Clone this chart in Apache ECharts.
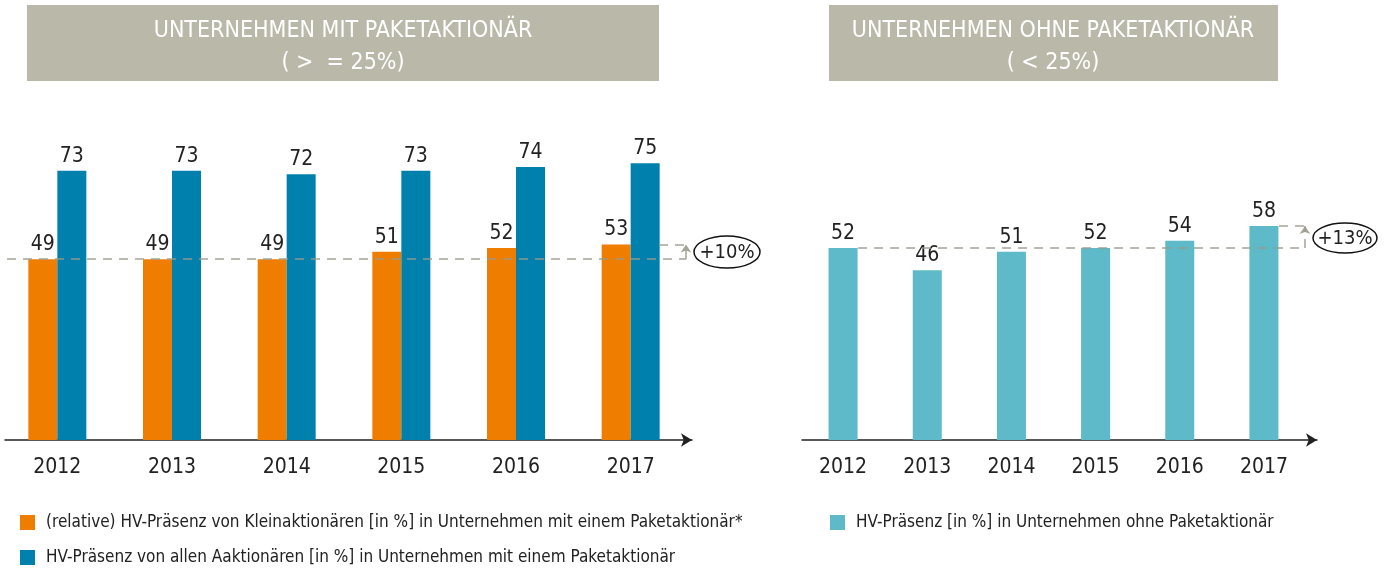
<!DOCTYPE html>
<html>
<head>
<meta charset="utf-8">
<script src="https://cdn.jsdelivr.net/npm/echarts@6/dist/echarts.min.js"></script>
<style>
  html, body { margin: 0; padding: 0; background: #fff; }
  #main { width: 1393px; height: 570px; }
</style>
</head>
<body>
<div id="main"></div>
<script>
var years = ['2012', '2013', '2014', '2015', '2016', '2017'];
var kleinMitPaket = [49, 49, 49, 51, 52, 53];
var alleMitPaket = [73, 73, 72, 73, 74, 75];
var ohnePaket = [52, 46, 51, 52, 54, 58];

var nameKlein = '(relative) HV-Präsenz von Kleinaktionären [in %] in Unternehmen mit einem Paketaktionär*';
var nameAlle = 'HV-Präsenz von allen Aaktionären [in %] in Unternehmen mit einem Paketaktionär';
var nameOhne = 'HV-Präsenz [in %] in Unternehmen ohne Paketaktionär';

var FONT = '"Liberation Sans Narrow", "DejaVu Sans Condensed", sans-serif';
var TXT = '#222';

var myChart = echarts.init(document.getElementById('main'));

var dashStyle = { type: [9, 7], color: '#9a9a8c', width: 1.5, opacity: 0.9 };

function valueLabel() {
    return { show: true, position: 'top', distance: 4, fontSize: 21, color: TXT, fontFamily: FONT };
}

// axis lines with arrow, drawn in their own grids
function arrowAxis(gridIndex) {
    return {
        type: 'category', gridIndex: gridIndex, data: years,
        axisLine: { show: true, lineStyle: { color: '#222', width: 1.5 },
                    symbol: ['none', 'arrow'], symbolSize: [10, 11] },
        axisTick: { show: false }, axisLabel: { show: false }, splitLine: { show: false }
    };
}

function yearAxis(gridIndex) {
    return {
        type: 'category', gridIndex: gridIndex, data: years,
        axisLine: { show: false }, axisTick: { show: false },
        axisLabel: { fontSize: 21, color: TXT, margin: 17, fontFamily: FONT }
    };
}

var option = {
    animation: false,
    textStyle: { fontFamily: FONT },
    grid: [
        { left: -2, width: 690, top: 71, bottom: 130 },
        { left: 801, width: 505, top: 71, bottom: 130 },
        { left: 5, width: 687, top: 71, bottom: 130 },
        { left: 802, width: 515, top: 71, bottom: 130 }
    ],
    xAxis: [yearAxis(0), yearAxis(1), arrowAxis(2), arrowAxis(3)],
    yAxis: [
        { type: 'value', gridIndex: 0, min: 0, max: 100, show: false },
        { type: 'value', gridIndex: 1, min: 0, max: 100, show: false },
        { type: 'value', gridIndex: 2, min: 0, max: 100, show: false },
        { type: 'value', gridIndex: 3, min: 0, max: 100, show: false }
    ],
    legend: [
        { orient: 'vertical', left: 20, top: 514, padding: 0, itemWidth: 15, itemHeight: 15, itemGap: 18,
          icon: 'rect', data: [nameKlein, nameAlle], selectedMode: false,
          textStyle: { fontSize: 17, color: TXT, fontFamily: FONT, padding: [0, 0, 0, 6] } },
        { orient: 'vertical', left: 830, top: 514, padding: 0, itemWidth: 15, itemHeight: 15,
          icon: 'rect', data: [nameOhne], selectedMode: false,
          textStyle: { fontSize: 17, color: TXT, fontFamily: FONT, padding: [0, 0, 0, 6] } }
    ],
    series: [
        {
            name: nameKlein, type: 'bar', xAxisIndex: 0, yAxisIndex: 0,
            data: kleinMitPaket, barWidth: 29, barGap: 0,
            itemStyle: { color: '#ef7d00' }, label: valueLabel()
        },
        {
            name: nameAlle, type: 'bar', xAxisIndex: 0, yAxisIndex: 0,
            data: alleMitPaket, barWidth: 29, barGap: 0,
            itemStyle: { color: '#0081ad' }, label: valueLabel(),
            markLine: {
                silent: true, symbol: 'none', label: { show: false }, lineStyle: dashStyle,
                data: [
                    [{ x: 7, yAxis: kleinMitPaket[0] }, { x: 686, yAxis: kleinMitPaket[0] }],
                    [{ x: 659, yAxis: kleinMitPaket[5] }, { x: 686, yAxis: kleinMitPaket[5] }],
                    [{ x: 686, yAxis: kleinMitPaket[0] },
                     { x: 686, yAxis: kleinMitPaket[5], symbol: 'arrow', symbolSize: [8, 8] }]
                ]
            }
        },
        {
            name: nameOhne, type: 'bar', xAxisIndex: 1, yAxisIndex: 1,
            data: ohnePaket, barWidth: 29,
            itemStyle: { color: '#5ebac9' }, label: valueLabel(),
            markLine: {
                silent: true, symbol: 'none', label: { show: false }, lineStyle: dashStyle,
                data: [
                    [{ x: 858, yAxis: ohnePaket[0] }, { x: 1305, yAxis: ohnePaket[0] }],
                    [{ x: 1279, yAxis: ohnePaket[5] }, { x: 1305, yAxis: ohnePaket[5] }],
                    [{ x: 1305, yAxis: ohnePaket[0] },
                     { x: 1305, yAxis: ohnePaket[5], symbol: 'arrow', symbolSize: [8, 8] }]
                ]
            }
        }
    ],
    graphic: [
        { type: 'rect', left: 27, top: 5, shape: { width: 632, height: 76 }, style: { fill: '#bab8a9' } },
        { type: 'text', x: 343, y: 31, style: { text: 'UNTERNEHMEN MIT PAKETAKTIONÄR', fill: '#fff',
          font: '23px ' + FONT, textAlign: 'center', textVerticalAlign: 'middle' } },
        { type: 'text', x: 343, y: 63, style: { text: '( >  = 25%)', fill: '#fff',
          font: '23px ' + FONT, textAlign: 'center', textVerticalAlign: 'middle' } },
        { type: 'rect', left: 829, top: 5, shape: { width: 449, height: 76 }, style: { fill: '#bab8a9' } },
        { type: 'text', x: 1053, y: 31, style: { text: 'UNTERNEHMEN OHNE PAKETAKTIONÄR', fill: '#fff',
          font: '23px ' + FONT, textAlign: 'center', textVerticalAlign: 'middle' } },
        { type: 'text', x: 1053, y: 63, style: { text: '( < 25%)', fill: '#fff',
          font: '23px ' + FONT, textAlign: 'center', textVerticalAlign: 'middle' } },
        // growth bubbles
        { type: 'ellipse', shape: { cx: 727, cy: 252, rx: 33, ry: 16 },
          style: { fill: '#fff', stroke: '#111', lineWidth: 1.5 } },
        { type: 'text', x: 727, y: 253, style: { text: '+10%', fill: TXT, font: '20px ' + FONT,
          textAlign: 'center', textVerticalAlign: 'middle' } },
        { type: 'ellipse', shape: { cx: 1345, cy: 238, rx: 32, ry: 15 },
          style: { fill: '#fff', stroke: '#111', lineWidth: 1.5 } },
        { type: 'text', x: 1345, y: 239, style: { text: '+13%', fill: TXT, font: '20px ' + FONT,
          textAlign: 'center', textVerticalAlign: 'middle' } }
    ]
};
myChart.setOption(option);
</script>
</body>
</html>
